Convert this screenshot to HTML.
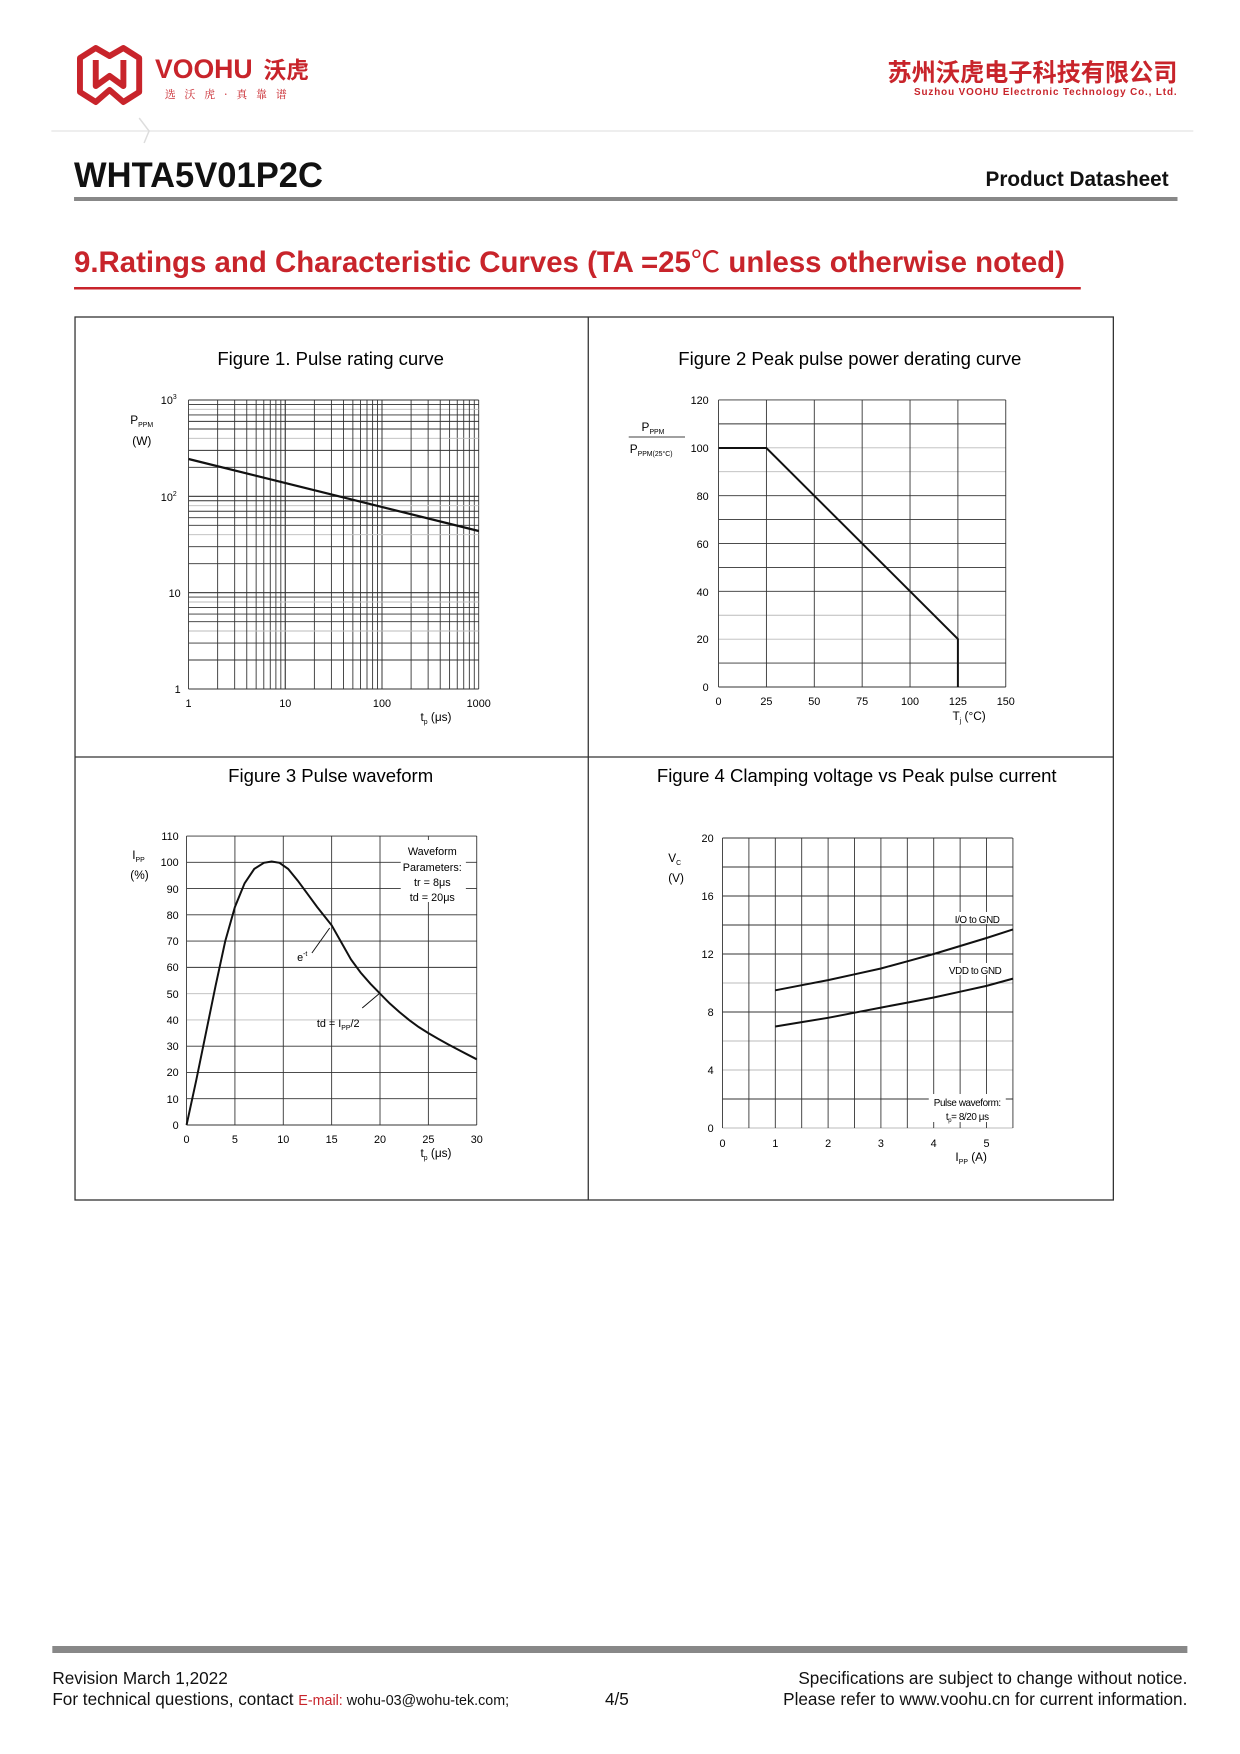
<!DOCTYPE html>
<html><head><meta charset="utf-8">
<style>
html,body{margin:0;padding:0;background:#fff;}
svg{display:block;}
text{font-family:"Liberation Sans","Noto Sans CJK SC",sans-serif;}
</style></head>
<body>
<svg id="s" width="1240" height="1754" viewBox="0 0 1240 1754" xmlns="http://www.w3.org/2000/svg">
<g transform="matrix(0.987 0 0 1 1 0)">
<g fill="none" stroke="#c8242b" stroke-width="6" stroke-linejoin="round">
<path d="M80 58 L96 48 L110 56 L124 48 L140 58 L140 92 L124 102 L110 90 L96 102 L80 92 Z"/>
<path d="M96 60 L96 86 L110 76 L124 86 L124 60"/>
</g>
<text x="156" y="78" font-size="27" font-weight="bold" fill="#c8242b">VOOHU</text>
<text x="266" y="78" font-size="23" font-weight="bold" fill="#c8242b" style="font-family:'Noto Sans CJK SC',sans-serif">沃虎</text>
<text x="166" y="98" font-size="11" fill="#c8242b" letter-spacing="9" style="font-family:'Noto Serif CJK SC',serif">选沃虎·真靠谱</text>
<text x="1192" y="81" font-size="24.5" font-weight="bold" fill="#c8242b" text-anchor="end" style="font-family:'Noto Sans CJK SC',sans-serif">苏州沃虎电子科技有限公司</text>
<text x="1192" y="95" font-size="10" font-weight="bold" fill="#c8242b" text-anchor="end" letter-spacing="0.9">Suzhou VOOHU Electronic Technology Co., Ltd.</text>
<line x1="51" y1="131" x2="1208" y2="131" stroke="#eee" stroke-width="2"/>
<path d="M140 118 L150 131 L145 143" stroke="#ddd" fill="none" stroke-width="1.5"/>
<text x="74" y="187" font-size="35" font-weight="bold" fill="#111">WHTA5V01P2C</text>
<text x="1183" y="186" font-size="21" font-weight="bold" fill="#111" text-anchor="end">Product Datasheet</text>
<rect x="74" y="197" width="1118" height="4" fill="#888"/>
<text x="74" y="272" font-size="29.8" font-weight="bold" fill="#c8242b">9.Ratings and Characteristic Curves (TA =25<tspan font-weight="normal" style="font-family:'Noto Sans CJK SC',sans-serif">℃</tspan> unless otherwise noted)</text>
<rect x="74" y="287" width="1020" height="2.5" fill="#c8242b"/>

<g stroke="#333" stroke-width="1.3" fill="none">
<rect x="75" y="317" width="1052" height="883"/>
<line x1="595" y1="317" x2="595" y2="1200"/>
<line x1="75" y1="757" x2="1127" y2="757"/>
</g>

<g font-size="18.8" text-anchor="middle" fill="#000">
<text x="334" y="365">Figure 1. Pulse rating curve</text>
<text x="860" y="365">Figure 2 Peak pulse power derating curve</text>
<text x="334" y="782">Figure 3 Pulse waveform</text>
<text x="867" y="782">Figure 4 Clamping voltage vs Peak pulse current</text>
</g>

<g id="grids" stroke="#333" stroke-width="0.9" fill="none"></g>

<g font-size="11" fill="#000">
<text x="178" y="404" text-anchor="end">10<tspan font-size="7" dy="-5">3</tspan></text>
<text x="178" y="501" text-anchor="end">10<tspan font-size="7" dy="-5">2</tspan></text>
<text x="182" y="597" text-anchor="end">10</text>
<text x="182" y="693" text-anchor="end">1</text>
<text x="190" y="707" text-anchor="middle">1</text>
<text x="288" y="707" text-anchor="middle">10</text>
<text x="386" y="707" text-anchor="middle">100</text>
<text x="484" y="707" text-anchor="middle">1000</text>
<text x="131" y="424" font-size="12">P<tspan font-size="7" dy="3">PPM</tspan></text>
<text x="133" y="445" font-size="12">(W)</text>
<text x="425" y="721" font-size="12">t<tspan font-size="7" dy="3">p</tspan><tspan dy="-3"> (μs)</tspan></text>
</g>
<line x1="190" y1="459" x2="484" y2="531" stroke="#111" stroke-width="2.2"/>

<g font-size="11" fill="#000">
<text x="717" y="404" text-anchor="end">120</text>
<text x="717" y="452" text-anchor="end">100</text>
<text x="717" y="500" text-anchor="end">80</text>
<text x="717" y="548" text-anchor="end">60</text>
<text x="717" y="596" text-anchor="end">40</text>
<text x="717" y="643" text-anchor="end">20</text>
<text x="717" y="691" text-anchor="end">0</text>
<g text-anchor="middle">
<text x="727" y="705">0</text><text x="775.5" y="705">25</text><text x="824" y="705">50</text><text x="872.5" y="705">75</text><text x="921" y="705">100</text><text x="969.5" y="705">125</text><text x="1018" y="705">150</text>
</g>
<text x="649" y="431" font-size="12">P<tspan font-size="7" dy="3">PPM</tspan></text>
<line x1="636" y1="437" x2="693" y2="437" stroke="#000" stroke-width="0.8"/>
<text x="637" y="453" font-size="12">P<tspan font-size="7" dy="3">PPM(25°C)</tspan></text>
<text x="964" y="720" font-size="12">T<tspan font-size="7" dy="3">j</tspan><tspan dy="-3"> (°C)</tspan></text>
</g>
<polyline points="727,448 775.5,448 969.5,639 969.5,687" fill="none" stroke="#111" stroke-width="2"/>

<g font-size="11" fill="#000">
<text x="180" y="840" text-anchor="end">110</text>
<text x="180" y="866" text-anchor="end">100</text>
<text x="180" y="893" text-anchor="end">90</text>
<text x="180" y="919" text-anchor="end">80</text>
<text x="180" y="945" text-anchor="end">70</text>
<text x="180" y="971" text-anchor="end">60</text>
<text x="180" y="998" text-anchor="end">50</text>
<text x="180" y="1024" text-anchor="end">40</text>
<text x="180" y="1050" text-anchor="end">30</text>
<text x="180" y="1076" text-anchor="end">20</text>
<text x="180" y="1103" text-anchor="end">10</text>
<text x="180" y="1129" text-anchor="end">0</text>
<g text-anchor="middle">
<text x="188" y="1143">0</text><text x="237" y="1143">5</text><text x="286" y="1143">10</text><text x="335" y="1143">15</text><text x="384" y="1143">20</text><text x="433" y="1143">25</text><text x="482" y="1143">30</text>
</g>
<text x="133" y="859" font-size="12">I<tspan font-size="7" dy="3">PP</tspan></text>
<text x="131" y="879" font-size="12">(%)</text>
<text x="425" y="1157" font-size="12">t<tspan font-size="7" dy="3">p</tspan><tspan dy="-3"> (μs)</tspan></text>
<g text-anchor="middle">
<rect x="405" y="840" width="66" height="62" fill="#fff"/>
<text x="437" y="855">Waveform</text>
<text x="437" y="871">Parameters:</text>
<text x="437" y="886">tr = 8μs</text>
<text x="437" y="901">td = 20μs</text>
</g>
<text x="300" y="961">e<tspan font-size="7" dy="-5">-t</tspan></text>
<text x="320" y="1027">td = I<tspan font-size="7" dy="3">PP</tspan><tspan dy="-3">/2</tspan></text>
</g>
<line x1="333" y1="928" x2="315" y2="953" stroke="#111" stroke-width="1"/>
<line x1="384" y1="993" x2="366" y2="1008" stroke="#111" stroke-width="1"/>
<path id="c3" fill="none" stroke="#111" stroke-width="2"/>

<g font-size="11" fill="#000">
<text x="722" y="842" text-anchor="end">20</text>
<text x="722" y="900" text-anchor="end">16</text>
<text x="722" y="958" text-anchor="end">12</text>
<text x="722" y="1016" text-anchor="end">8</text>
<text x="722" y="1074" text-anchor="end">4</text>
<text x="722" y="1132" text-anchor="end">0</text>
<g text-anchor="middle">
<text x="731" y="1147">0</text><text x="784.5" y="1147">1</text><text x="838" y="1147">2</text><text x="891.5" y="1147">3</text><text x="945" y="1147">4</text><text x="998.5" y="1147">5</text>
</g>
<text x="676" y="862" font-size="12">V<tspan font-size="7" dy="3">C</tspan></text>
<text x="676" y="882" font-size="12">(V)</text>
<text x="967" y="1161" font-size="12">I<tspan font-size="7" dy="3">PP</tspan><tspan dy="-3"> (A)</tspan></text>
<g font-size="10" text-anchor="middle" letter-spacing="-0.4">
<rect x="960" y="912" width="56" height="12" fill="#fff"/>
<text x="989" y="923">I/O to GND</text>
<rect x="956" y="963" width="62" height="12" fill="#fff"/>
<text x="987" y="974">VDD to GND</text>
<rect x="940" y="1094" width="78" height="28" fill="#fff"/>
<text x="979" y="1106">Pulse waveform:</text>
<text x="979" y="1120">t<tspan font-size="6" dy="2">p</tspan><tspan dy="-2">= 8/20 μs</tspan></text>
</g>
</g>
<path id="c4a" fill="none" stroke="#111" stroke-width="2"/>
<path id="c4b" fill="none" stroke="#111" stroke-width="2"/>

<rect x="52" y="1646" width="1150" height="7" fill="#888"/>
<g font-size="17.4" fill="#111">
<text x="52" y="1684">Revision March 1,2022</text>
<text x="52" y="1705">For technical questions, contact <tspan fill="#c8242b" font-size="14.5">E-mail:</tspan><tspan font-size="14.5"> wohu-03@wohu-tek.com;</tspan></text>
<text x="624" y="1705" text-anchor="middle">4/5</text>
<text x="1202" y="1684" text-anchor="end">Specifications are subject to change without notice.</text>
<text x="1202" y="1705" text-anchor="end">Please refer to www.voohu.cn for current information.</text>
</g>
</g>
</svg>
<script>
var NS="http://www.w3.org/2000/svg",g=document.getElementById("grids");
function L(x1,y1,x2,y2,c){var l=document.createElementNS(NS,"line");l.setAttribute("x1",x1);l.setAttribute("y1",y1);l.setAttribute("x2",x2);l.setAttribute("y2",y2);if(c)l.setAttribute("stroke",c);g.insertBefore(l,g.firstChild);}
var x0=190,xw=98,yb=689,yh=96.33;
for(var d=0;d<3;d++)for(var k=1;k<=10;k++){var x=x0+(d+Math.log10(k))*xw;L(x,400,x,689);var y=yb-(d+Math.log10(k))*yh;L(190,y,484,y,(k==8||k==4)?"#bbb":null);}
for(var i=0;i<=6;i++){var x=727+i*48.5;L(x,400,x,687);}
for(var i=0;i<=12;i++){var y=687-i*23.92;L(727,y,1018,y,(i==10||i==9||i==3||i==2)?"#bbb":null);}
for(var i=0;i<=6;i++){var x=188+i*49;L(x,836,x,1125);}
for(var i=0;i<=11;i++){var y=1125-i*26.27;L(188,y,482,y,(i==5||i==4)?"#bbb":null);}
for(var i=0;i<=11;i++){var x=731+i*26.75;L(x,838,x,1128);}
for(var i=0;i<=10;i++){var y=1128-i*29;L(731,y,1025,y,(i==5||i==3||i==2||i==0)?"#bbb":null);}
function path(id,pts,fx,fy){var d="";pts.forEach(function(p,i){d+=(i?"L":"M")+fx(p[0]).toFixed(1)+" "+fy(p[1]).toFixed(1);});document.getElementById(id).setAttribute("d",d);}
path("c3",[[0,0],[1,17],[2,35],[3,53],[4,70],[5,83],[6,92],[7,97.5],[8,99.8],[8.8,100.3],[9.6,99.8],[10.5,97.5],[11.5,93],[12.5,88],[13.5,83],[15,76],[16,69.5],[17,63],[18,58],[19,53.8],[20,50],[21,46.3],[22,43],[23,40],[24,37.3],[25,35],[26,32.8],[27,30.8],[28,28.8],[29,26.9],[30,25]],function(t){return 188+t*9.8},function(v){return 1125-v*2.627});
var fx4=function(a){return 731+a*53.5},fy4=function(v){return 1128-v*14.5};
path("c4a",[[1,9.5],[1.5,9.85],[2,10.2],[2.5,10.6],[3,11.0],[3.5,11.5],[4,12.0],[4.5,12.55],[5,13.1],[5.5,13.7]],fx4,fy4);
path("c4b",[[1,7.0],[1.5,7.3],[2,7.6],[2.5,7.95],[3,8.3],[3.5,8.65],[4,9.0],[4.5,9.4],[5,9.8],[5.5,10.3]],fx4,fy4);
</script>
</body></html>
